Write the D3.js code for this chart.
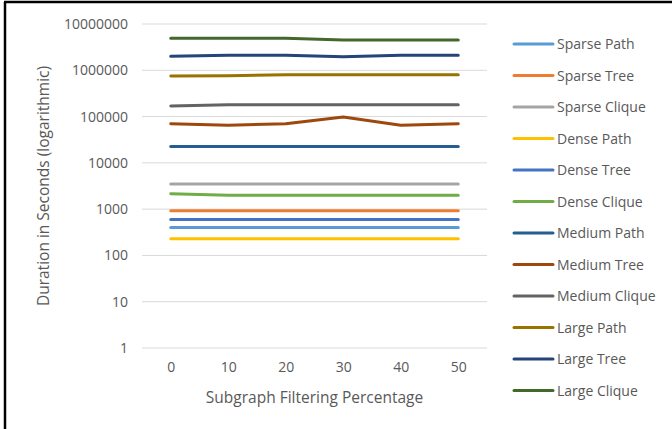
<!DOCTYPE html>
<html>
<head>
<meta charset="utf-8">
<script src="https://cdn.jsdelivr.net/npm/d3@7"></script>
<style>
  body { margin: 0; background: #fff; }
  text { font-family: "Open Sans", "Liberation Sans", sans-serif; fill: #595959; }
</style>
</head>
<body>
<div id="chart"></div>
<script>
// chart data
var percentages = [0, 10, 20, 30, 40, 50];
var seriesNames = ["Sparse Path", "Sparse Tree", "Sparse Clique", "Dense Path", "Dense Tree", "Dense Clique",
  "Medium Path", "Medium Tree", "Medium Clique", "Large Path", "Large Tree", "Large Clique"];
var seriesColors = ["#5b9bd5", "#ed7d31", "#a5a5a5", "#ffc000", "#4472c4", "#70ad47",
  "#255e91", "#9e480e", "#636363", "#997300", "#264478", "#43682b"];
var sparsePath = [400, 400, 400, 400, 400, 400];
var sparseTree = [920, 920, 920, 920, 920, 920];
var sparseClique = [3500, 3500, 3500, 3500, 3500, 3500];
var densePath = [230, 230, 230, 230, 230, 230];
var denseTree = [600, 600, 600, 600, 600, 600];
var denseClique = [2150, 2000, 2000, 2000, 2000, 2000];
var mediumPath = [22700, 22700, 22700, 22700, 22700, 22700];
var mediumTree = [70000, 65000, 70000, 98000, 65000, 70000];
var mediumClique = [170000, 180000, 180000, 180000, 180000, 180000];
var largePath = [750000, 760000, 800000, 800000, 800000, 800000];
var largeTree = [2000000, 2100000, 2100000, 1950000, 2100000, 2100000];
var largeClique = [4900000, 4900000, 4900000, 4500000, 4500000, 4500000];
var yTicks = [1, 10, 100, 1000, 10000, 100000, 1000000, 10000000];

var allSeries = [sparsePath, sparseTree, sparseClique, densePath, denseTree, denseClique,
  mediumPath, mediumTree, mediumClique, largePath, largeTree, largeClique];

var svgWidth = 672;
var svgHeight = 429;

var margin = { top: 24, right: 185, bottom: 81, left: 142 };
var chartWidth = svgWidth - margin.left - margin.right;
var chartHeight = svgHeight - margin.top - margin.bottom;

var svg = d3.select("#chart")
  .append("svg")
  .attr("width", svgWidth)
  .attr("height", svgHeight);

// outer frame (top and left edges only visible)
svg.append("line").attr("x1", 4).attr("x2", svgWidth).attr("y1", 2).attr("y2", 2)
  .attr("stroke", "#000").attr("stroke-width", 2.5);
svg.append("line").attr("x1", 5).attr("x2", 5).attr("y1", 2).attr("y2", svgHeight)
  .attr("stroke", "#000").attr("stroke-width", 2.5);

var chartGroup = svg.append("g")
  .attr("transform", `translate(${margin.left}, ${margin.top})`);

var xScale = d3.scalePoint()
  .domain(percentages)
  .range([0, chartWidth])
  .padding(0.5);

var yScale = d3.scaleLog()
  .domain([1, 10000000])
  .range([chartHeight, 0]);

// gridlines
chartGroup.selectAll(".grid")
  .data(yTicks)
  .enter()
  .append("line")
  .attr("x1", 0)
  .attr("x2", chartWidth)
  .attr("y1", d => yScale(d))
  .attr("y2", d => yScale(d))
  .attr("stroke", "#d9d9d9")
  .attr("stroke-width", 1);

var leftAxis = chartGroup.append("g")
  .call(d3.axisLeft(yScale).tickValues(yTicks).tickFormat(d3.format("d")).tickSize(0).tickPadding(14));
leftAxis.select(".domain").remove();
leftAxis.selectAll("text").attr("font-size", "14px").style("fill", "#595959");

var bottomAxis = chartGroup.append("g")
  .attr("transform", `translate(0, ${chartHeight})`)
  .call(d3.axisBottom(xScale).tickSize(0).tickPadding(14));
bottomAxis.select(".domain").remove();
bottomAxis.selectAll("text").attr("font-size", "14px").style("fill", "#595959");

var drawLine = d3.line()
  .x((d, i) => xScale(percentages[i]))
  .y(d => yScale(d));

chartGroup.selectAll(".series")
  .data(allSeries)
  .enter()
  .append("path")
  .attr("d", d => drawLine(d))
  .attr("fill", "none")
  .attr("stroke", (d, i) => seriesColors[i])
  .attr("stroke-width", 3)
  .attr("stroke-linecap", "round")
  .attr("stroke-linejoin", "round");

// axis titles
chartGroup.append("text")
  .attr("x", chartWidth / 2)
  .attr("y", chartHeight + 55)
  .attr("text-anchor", "middle")
  .attr("font-size", "15.5px")
  .text("Subgraph Filtering Percentage");

chartGroup.append("text")
  .attr("transform", `rotate(-90) translate(${-chartHeight / 2}, -93)`)
  .attr("text-anchor", "middle")
  .attr("font-size", "15.5px")
  .text("Duration in Seconds (logarithmic)");

// legend
var legend = svg.append("g")
  .attr("transform", "translate(514, 44)");

var legendItems = legend.selectAll(".legend-item")
  .data(seriesNames)
  .enter()
  .append("g")
  .attr("transform", (d, i) => `translate(0, ${i * 31.5})`);

legendItems.append("line")
  .attr("x1", 0)
  .attr("x2", 39)
  .attr("stroke", (d, i) => seriesColors[i])
  .attr("stroke-width", 3)
  .attr("stroke-linecap", "round");

legendItems.append("text")
  .attr("x", 43)
  .attr("y", 5)
  .attr("font-size", "14px")
  .text(d => d);
</script>
</body>
</html>
